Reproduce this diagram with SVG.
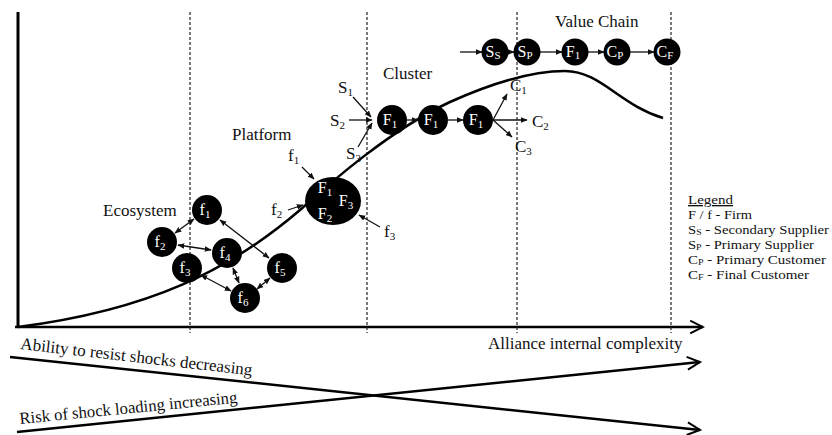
<svg xmlns="http://www.w3.org/2000/svg" width="832" height="435" viewBox="0 0 832 435" font-family="Liberation Serif, Times New Roman, DejaVu Serif, serif">
<style>
text{font-family:"Liberation Serif","Times New Roman","DejaVu Serif",serif;fill:#111}
.lbl{font-size:17px}
.nt{font-size:16px;fill:#fff;text-anchor:middle}
.sub{font-size:11px}
.lsub{font-size:9px}
.node{fill:#000}
.arr{stroke:#111;stroke-width:1.3;fill:none;marker-end:url(#ah)}
.dbl{stroke:#111;stroke-width:1.3;fill:none;marker-end:url(#ah);marker-start:url(#ah)}
.dash{stroke:#222;stroke-width:1.2;stroke-dasharray:3,2;fill:none}
.big{stroke:#000;stroke-width:2.5;fill:none;marker-end:url(#open)}
.leg{font-size:13.5px}
</style>
<defs>
<marker id="ah" viewBox="0 0 10 10" refX="9" refY="5" markerWidth="7" markerHeight="7" markerUnits="userSpaceOnUse" orient="auto-start-reverse"><path d="M0,1 L10,5 L0,9 z" fill="#111"/></marker>
<marker id="open" viewBox="0 0 20 20" refX="18" refY="10" markerWidth="16" markerHeight="16" markerUnits="userSpaceOnUse" orient="auto"><path d="M2,2 L18,10 L2,18" fill="none" stroke="#000" stroke-width="2.5"/></marker>
</defs>
<rect width="832" height="435" fill="#fff"/>
<g id="axes">
<line x1="18" y1="12" x2="18" y2="328" stroke="#000" stroke-width="3"/>
<line class="big" x1="15" y1="327" x2="703" y2="327"/>
<line class="dash" x1="190" y1="12" x2="190" y2="333"/>
<line class="dash" x1="367" y1="12" x2="367" y2="333"/>
<line class="dash" x1="517" y1="12" x2="517" y2="333"/>
<line class="dash" x1="671" y1="12" x2="671" y2="333"/>
<text x="488" y="349" style="font-size:17px">Alliance internal complexity</text>
<path d="M18,327 C150,310 230,270 300,210 C330,183 390,130 450,102 C490,84 530,71 565,71 C600,71 620,105 663,118" stroke="#000" stroke-width="2.5" fill="none"/>
</g>
<g id="trend">
<line class="big" x1="10" y1="357" x2="700" y2="430"/>
<line class="big" x1="17" y1="432" x2="700" y2="362"/>
<text x="20" y="349" transform="rotate(6.5 20 349)" style="font-size:17px">Ability to resist shocks  decreasing</text>
<text x="20" y="424" transform="rotate(-5.6 20 424)" style="font-size:16.7px">Risk of shock loading increasing</text>
</g>
<g id="connectors">
<line class="dbl" x1="194" y1="219" x2="175" y2="233"/>
<line class="dbl" x1="220" y1="220" x2="269" y2="258"/>
<line class="dbl" x1="178" y1="245" x2="211" y2="250"/>
<line class="dbl" x1="233" y1="268" x2="239" y2="283"/>
<line class="dbl" x1="201" y1="275" x2="231" y2="291"/>
<line class="dbl" x1="270" y1="278" x2="257" y2="289"/>
<line class="arr" x1="302" y1="167" x2="314" y2="179"/>
<line class="arr" x1="288" y1="210" x2="303" y2="205"/>
<line class="arr" x1="380" y1="227" x2="359" y2="215"/>
<line class="arr" x1="353" y1="97" x2="371" y2="117"/>
<line class="arr" x1="349" y1="120" x2="372" y2="120"/>
<line class="arr" x1="358" y1="147" x2="372" y2="123"/>
<line class="arr" x1="407" y1="120" x2="418" y2="120"/>
<line class="arr" x1="448" y1="120" x2="463" y2="120"/>
<line class="arr" x1="493" y1="120" x2="507" y2="94"/>
<line class="arr" x1="493" y1="120" x2="527" y2="120"/>
<line class="arr" x1="493" y1="120" x2="512" y2="137"/>
<line class="arr" x1="460" y1="52" x2="482" y2="52"/>
<line class="arr" x1="507" y1="52" x2="514" y2="52"/>
<line class="arr" x1="540" y1="52" x2="562" y2="52"/>
<line class="arr" x1="588" y1="52" x2="604" y2="52"/>
<line class="arr" x1="630" y1="52" x2="654" y2="52"/>
</g>
<g id="ecosystem">
<text class="lbl" x="103" y="216">Ecosystem</text>
<g id="e-f1"><circle class="node" cx="207" cy="210" r="15"/><text class="nt" x="205" y="215">f<tspan class="sub" dy="3">1</tspan></text></g>
<g id="e-f2"><circle class="node" cx="162" cy="242" r="15"/><text class="nt" x="160" y="247">f<tspan class="sub" dy="3">2</tspan></text></g>
<g id="e-f3"><circle class="node" cx="187" cy="268" r="15"/><text class="nt" x="185" y="273">f<tspan class="sub" dy="3">3</tspan></text></g>
<g id="e-f4"><circle class="node" cx="227" cy="253" r="15"/><text class="nt" x="225" y="258">f<tspan class="sub" dy="3">4</tspan></text></g>
<g id="e-f5"><circle class="node" cx="282" cy="268" r="15"/><text class="nt" x="280" y="273">f<tspan class="sub" dy="3">5</tspan></text></g>
<g id="e-f6"><circle class="node" cx="245" cy="298" r="15"/><text class="nt" x="243" y="303">f<tspan class="sub" dy="3">6</tspan></text></g>
</g>
<g id="platform">
<text class="lbl" x="232" y="140">Platform</text>
<ellipse class="node" cx="333" cy="201" rx="28" ry="24"/>
<text class="nt" x="325" y="193">F<tspan class="sub" dy="3">1</tspan></text>
<text class="nt" x="346" y="206">F<tspan class="sub" dy="3">3</tspan></text>
<text class="nt" x="325" y="219">F<tspan class="sub" dy="3">2</tspan></text>
<text class="lbl" x="288" y="161">f<tspan class="sub" dy="3">1</tspan></text>
<text class="lbl" x="271" y="215">f<tspan class="sub" dy="3">2</tspan></text>
<text class="lbl" x="384" y="237">f<tspan class="sub" dy="3">3</tspan></text>
</g>
<g id="cluster">
<text class="lbl" x="383" y="79">Cluster</text>
<text class="lbl" x="338" y="93">S<tspan class="sub" dy="3">1</tspan></text>
<text class="lbl" x="330" y="126">S<tspan class="sub" dy="3">2</tspan></text>
<text class="lbl" x="346" y="159">S<tspan class="sub" dy="3">3</tspan></text>
<g id="c-f1a"><circle class="node" cx="392" cy="120" r="15"/><text class="nt" x="390" y="125">F<tspan class="sub" dy="3">1</tspan></text></g>
<g id="c-f1b"><circle class="node" cx="433" cy="120" r="15"/><text class="nt" x="431" y="125">F<tspan class="sub" dy="3">1</tspan></text></g>
<g id="c-f1c"><circle class="node" cx="478" cy="120" r="15"/><text class="nt" x="476" y="125">F<tspan class="sub" dy="3">1</tspan></text></g>
<text class="lbl" x="510" y="91">C<tspan class="sub" dy="3">1</tspan></text>
<text class="lbl" x="532" y="127">C<tspan class="sub" dy="3">2</tspan></text>
<text class="lbl" x="515" y="152">C<tspan class="sub" dy="3">3</tspan></text>
</g>
<g id="valuechain">
<text class="lbl" x="555" y="27">Value Chain</text>
<g id="v-ss"><circle class="node" cx="495" cy="52" r="13.5"/><text class="nt" x="493" y="57">S<tspan class="sub" dy="2">S</tspan></text></g>
<g id="v-sp"><circle class="node" cx="527" cy="52" r="13.5"/><text class="nt" x="525" y="57">S<tspan class="sub" dy="2">P</tspan></text></g>
<g id="v-f1"><circle class="node" cx="575" cy="52" r="13.5"/><text class="nt" x="573" y="57">F<tspan class="sub" dy="2">1</tspan></text></g>
<g id="v-cp"><circle class="node" cx="617" cy="52" r="13.5"/><text class="nt" x="615" y="57">C<tspan class="sub" dy="2">P</tspan></text></g>
<g id="v-cf"><circle class="node" cx="667" cy="52" r="13.5"/><text class="nt" x="665" y="57">C<tspan class="sub" dy="2">F</tspan></text></g>
</g>
<g id="legend">
<text class="leg" x="688" y="204" textLength="45" lengthAdjust="spacingAndGlyphs" text-decoration="underline">Legend</text>
<text class="leg" x="688" y="219" textLength="64" lengthAdjust="spacingAndGlyphs">F / f - Firm</text>
<text class="leg" x="688" y="234" textLength="141" lengthAdjust="spacingAndGlyphs">S<tspan class="lsub" dy="1">S</tspan><tspan dy="-1"> - Secondary Supplier</tspan></text>
<text class="leg" x="688" y="249" textLength="126" lengthAdjust="spacingAndGlyphs">S<tspan class="lsub" dy="1">P</tspan><tspan dy="-1"> - Primary Supplier</tspan></text>
<text class="leg" x="688" y="264" textLength="138" lengthAdjust="spacingAndGlyphs">C<tspan class="lsub" dy="1">P</tspan><tspan dy="-1"> - Primary Customer</tspan></text>
<text class="leg" x="688" y="279" textLength="121" lengthAdjust="spacingAndGlyphs">C<tspan class="lsub" dy="1">F</tspan><tspan dy="-1"> - Final Customer</tspan></text>
</g>
</svg>
